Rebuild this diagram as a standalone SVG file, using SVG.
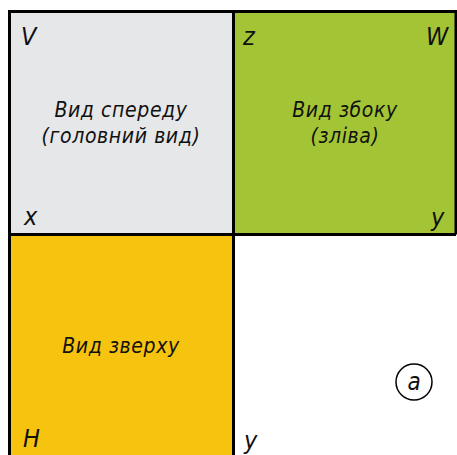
<svg xmlns="http://www.w3.org/2000/svg" width="457" height="455" viewBox="0 0 457 455">
<style>
.t{font-family:"DejaVu Sans Condensed","DejaVu Sans",sans-serif;font-style:italic;fill:#111;}
.lab{font-size:25px;}
.cap{font-size:21px;text-anchor:middle;letter-spacing:0.6px;}
.ln{stroke:#000;stroke-width:3;fill:none;}
</style>
<rect width="457" height="455" fill="#fff"/>
<g id="front">
<rect x="9" y="11" width="224" height="223" fill="#e6e7e8"/>
<text class="t lab" x="21" y="45">V</text>
<text class="t lab" x="24" y="225">x</text>
<text class="t cap" x="121" y="117">Вид спереду</text>
<text class="t cap" x="121" y="143">(головний вид)</text>
</g>
<g id="side">
<rect x="233" y="11" width="223" height="223" fill="#a3c435"/>
<text class="t lab" x="243" y="45">z</text>
<text class="t lab" x="426" y="45">W</text>
<text class="t lab" x="431" y="226">y</text>
<text class="t cap" x="345" y="117">Вид збоку</text>
<text class="t cap" x="345" y="143">(зліва)</text>
</g>
<g id="top">
<rect x="9" y="234" width="224" height="221" fill="#f6c30f"/>
<text class="t lab" x="23" y="447">H</text>
<text class="t cap" x="121" y="353">Вид зверху</text>
</g>
<g id="frame">
<path class="ln" d="M9.5 455V11.5H456V234.5M9.5 234.5H456M233.5 11.5V455"/>
<text class="t lab" x="244" y="449">y</text>
</g>
<g id="label-a">
<circle cx="414" cy="382" r="18" fill="#fff" stroke="#000" stroke-width="1.5"/>
<text class="t" x="414" y="390" font-size="24" text-anchor="middle">a</text>
</g>
</svg>
